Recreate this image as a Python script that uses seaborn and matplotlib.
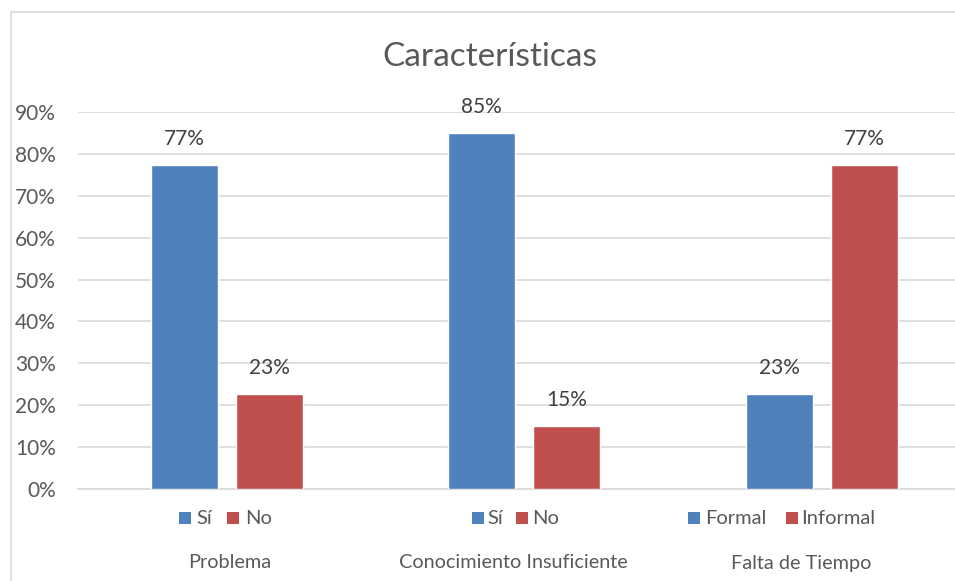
import matplotlib
matplotlib.use("Agg")
import matplotlib.pyplot as plt
import seaborn as sns
import pandas as pd

# Chart data
categories = ["Problema", "Conocimiento Insuficiente", "Falta de Tiempo"]
first_labels = ["Sí", "Sí", "Formal"]
second_labels = ["No", "No", "Informal"]
first_values = [0.7727, 0.85, 0.2273]
second_values = [0.2273, 0.15, 0.7727]
y_ticks = [0.0, 0.1, 0.2, 0.3, 0.4, 0.5, 0.6, 0.7, 0.8, 0.9]

BLUE = "#4F81BD"
RED = "#C0504D"
GRID = "#D9D9D9"
TEXT = "#595959"
LABEL = "#404040"

sns.set_theme(style="white")
plt.rcParams["font.family"] = ["Lato", "DejaVu Sans"]

df = pd.DataFrame({
    "categoria": categories * 2,
    "serie": ["a"] * 3 + ["b"] * 3,
    "valor": first_values + second_values,
})

W, H = 955, 581
fig = plt.figure(figsize=(W / 100, H / 100), dpi=100)
fig.patch.set_facecolor("white")

# plot area in pixels: left 78, top 112, bottom 489, running past the right edge
left, top, bottom = 78, 112, 489
ax = fig.add_axes([left / W, (H - bottom) / H, (W - left) / W, (bottom - top) / H])

sns.barplot(data=df, x="categoria", y="valor", hue="serie", order=categories,
            hue_order=["a", "b"], palette=[BLUE, RED], width=0.572, gap=0.213,
            saturation=1, legend=False, ax=ax, zorder=3)

group_px = 297.5
ax.set_xlim(-0.5, -0.5 + (W - left) / group_px)
ax.set_ylim(0, 0.9)
ax.set_yticks(y_ticks)
ax.set_yticklabels([f"{int(round(v * 100))}%" for v in y_ticks], color=TEXT, fontsize=15)
ax.tick_params(axis="y", length=0, pad=16)
ax.set_xticks([])
ax.set_xlabel("")
ax.set_ylabel("")
ax.grid(axis="y", color=GRID, linewidth=1.2, zorder=0)
for side in ["left", "right", "top"]:
    ax.spines[side].set_visible(False)
ax.spines["bottom"].set_color(GRID)
ax.spines["bottom"].set_linewidth(1.2)

# value labels above each bar
for cont, vals in zip(ax.containers, [first_values, second_values]):
    ax.bar_label(cont, labels=[f"{round(v * 100):.0f}%" for v in vals],
                 padding=11.5, fontsize=15, color=LABEL)

def px_to_x(px):
    return (px - (left + group_px / 2)) / group_px

def py_to_axes(py):
    return (bottom - py) / (bottom - top)

trans = ax.get_xaxis_transform()

# per-group keys beneath the axis
key_pos = [(185.0, 196.7, 232.7, 245.0),
           (477.7, 487.3, 521.7, 531.7),
           (694.3, 705.3, 791.7, 801.3)]
key_y = py_to_axes(518)
for (sq1, t1, sq2, t2), l1, l2 in zip(key_pos, first_labels, second_labels):
    ax.scatter([px_to_x(sq1)], [key_y], marker="s", s=82, color=BLUE,
               transform=trans, clip_on=False, linewidths=0)
    ax.scatter([px_to_x(sq2)], [key_y], marker="s", s=82, color=RED,
               transform=trans, clip_on=False, linewidths=0)
    ax.text(px_to_x(t1), key_y, l1, transform=trans, ha="left", va="center",
            fontsize=14.5, color=TEXT)
    ax.text(px_to_x(t2), key_y, l2, transform=trans, ha="left", va="center",
            fontsize=14.5, color=TEXT)

# category names
cat_px = [230.0, 513.0, 801.5]
for cx, name in zip(cat_px, categories):
    ax.text(px_to_x(cx), py_to_axes(563), name, transform=trans, ha="center",
            va="center", fontsize=14.3, color=TEXT)

# title
fig.text(490 / W, 1 - 57 / H, "Características", ha="center", va="center",
         fontsize=24, color=TEXT)

# chart border
border = plt.Rectangle((10.5 / W, -0.05), 1.2, 1 - 12.5 / H + 0.05,
                       transform=fig.transFigure, fill=False,
                       edgecolor=GRID, linewidth=1.2)
fig.patches.append(border)

fig.savefig("out.png", dpi=100, facecolor="white")
